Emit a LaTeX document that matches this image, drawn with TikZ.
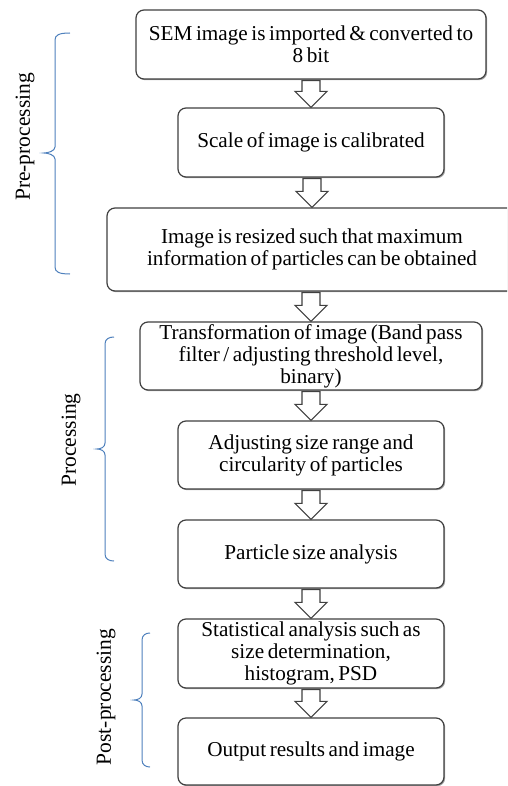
\documentclass[tikz,border=0pt]{standalone}
\usepackage{fontspec}
\setmainfont{Liberation Serif}
\usetikzlibrary{shadows,calc}

\definecolor{boxline}{RGB}{64,64,64}
\definecolor{bracecol}{RGB}{79,129,189}

% narrower, rigid interword spaces inside the step boxes
\newcommand\tightspaces{\spaceskip=3.6pt\relax\xspaceskip=3.6pt\relax}

% hollow block arrow from the bottom of one box to the top of the next
\newcommand\blockarrow[2]{%
  \draw[hollowarrow] let \p1=($(#1.south)+(0,1)$), \p2=(#2.north) in
    (\x2-9pt,\y1) -- (\x2+9pt,\y1) -- (\x2+9pt,\y2+16pt) -- (\x2+16pt,\y2+16pt)
    -- (\x2,\y2) -- (\x2-16pt,\y2+16pt) -- (\x2-9pt,\y2+16pt) -- cycle;}

% left curly brace: #1 spine x, #2 hook x, #3 tip x, #4 top y, #5 middle y, #6 bottom y
\newcommand\sidebrace[6]{%
  \draw[bracestyle] (#2,#4) .. controls (#1+4,#4) and (#1,#4+2) .. (#1,#4+7)
    -- (#1,#5-6) .. controls (#1,#5-2) and (#3+4,#5) .. (#3,#5)
    .. controls (#3+4,#5) and (#1,#5+2) .. (#1,#5+6)
    -- (#1,#6-7) .. controls (#1,#6-2) and (#1+4,#6) .. (#2,#6);}

\begin{document}
\begin{tikzpicture}[x=1pt,y=-1pt,
  stepbox/.style={draw=boxline, line width=1.2pt, rounded corners=8pt, fill=white,
    align=center, inner xsep=4pt, inner ysep=0pt,
    font=\fontsize{21.2}{22}\selectfont,
    execute at begin node=\tightspaces,
    drop shadow={shadow xshift=1.2pt, shadow yshift=-1.2pt, opacity=0.35, fill=black}},
  hollowarrow/.style={draw=boxline, line width=1.1pt, fill=white, line join=miter},
  bracestyle/.style={draw=bracecol, line width=1pt},
  sidelabel/.style={rotate=90, font=\fontsize{21.5}{23}\selectfont, inner sep=0pt}]

\useasboundingbox (0,0) rectangle (507,786);
\clip (0,0) rectangle (507,786);
\fill[white] (0,0) rectangle (507,786);

\node[stepbox, text width=342pt, minimum height=69pt] (b1) at (311,44.5)
  {SEM image is imported \& converted to\\8 bit};
\node[stepbox, text width=258pt, minimum height=69pt] (b2) at (311,142.5)
  {Scale of image is calibrated};
\node[stepbox, text width=402pt, minimum height=83pt] (b3) at (312,249.5)
  {Image is resized such that maximum\\information of particles can be obtained};
\node[stepbox, text width=334pt, minimum height=68pt] (b4) at (311,356)
  {Transformation of image (Band pass\\filter / adjusting threshold level,\\binary)};
\node[stepbox, text width=258pt, minimum height=68pt] (b5) at (311,455)
  {Adjusting size range and\\circularity of particles};
\node[stepbox, text width=258pt, minimum height=68pt] (b6) at (311,554)
  {Particle size analysis};
\node[stepbox, text width=258pt, minimum height=69pt] (b7) at (311,653.5)
  {Statistical analysis such as\\size determination,\\histogram, PSD};
\node[stepbox, text width=258pt, minimum height=67pt] (b8) at (311,751.5)
  {Output results and image};

\blockarrow{b1}{b2}
\blockarrow{b2}{b3}
\blockarrow{b3}{b4}
\blockarrow{b4}{b5}
\blockarrow{b5}{b6}
\blockarrow{b6}{b7}
\blockarrow{b7}{b8}

\sidebrace{55}{70}{44}{33}{153}{274}
\sidebrace{105}{114}{97}{337}{449}{561}
\sidebrace{142}{150}{134}{633}{700}{767}

\node[sidelabel] (pre) at (25,137) {Pre-processing};
\node[sidelabel] (proc) at (71,440) {Processing};
\node[sidelabel] (post) at (106,697) {Post-processing};
\end{tikzpicture}
\end{document}
